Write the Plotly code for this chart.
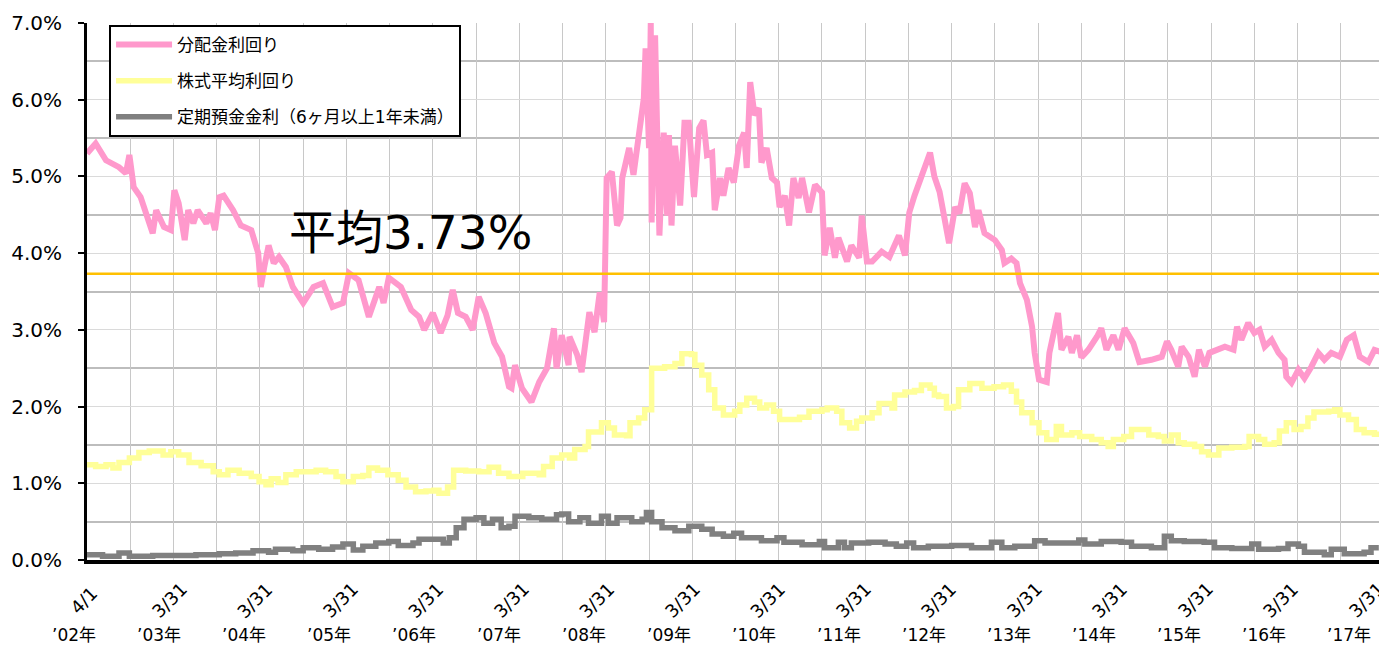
import plotly.graph_objects as go

# ---------------- data (x = decimal year) ----------------
pink_x = [2002.25, 2002.35, 2002.47, 2002.62, 2002.70, 2002.74, 2002.79, 2002.87, 2003.01, 2003.05,
          2003.14, 2003.22, 2003.26, 2003.31, 2003.38, 2003.42, 2003.48, 2003.53, 2003.63, 2003.68,
          2003.73, 2003.78, 2003.83, 2003.94, 2004.03, 2004.15, 2004.23, 2004.26, 2004.30, 2004.35,
          2004.41, 2004.47, 2004.55, 2004.63, 2004.75, 2004.87, 2004.98, 2005.09, 2005.21, 2005.28,
          2005.39, 2005.51, 2005.63, 2005.68, 2005.74, 2005.88, 2006.00, 2006.09, 2006.15, 2006.25,
          2006.34, 2006.42, 2006.48, 2006.54, 2006.63, 2006.71, 2006.78, 2006.86, 2006.96, 2007.05,
          2007.13, 2007.16, 2007.20, 2007.28, 2007.39, 2007.48, 2007.57, 2007.65, 2007.68, 2007.74,
          2007.82, 2007.83, 2007.92, 2007.97, 2008.06, 2008.12, 2008.18, 2008.23, 2008.26, 2008.32,
          2008.38, 2008.42, 2008.44, 2008.52, 2008.57, 2008.63, 2008.69, 2008.71, 2008.75, 2008.77,
          2008.78, 2008.82, 2008.84, 2008.87, 2008.92, 2008.96, 2008.98, 2009.01, 2009.05, 2009.11,
          2009.16, 2009.21, 2009.27, 2009.33, 2009.38, 2009.42, 2009.48, 2009.51, 2009.57, 2009.61,
          2009.67, 2009.73, 2009.79, 2009.85, 2009.88, 2009.92, 2009.97, 2010.02, 2010.05, 2010.11,
          2010.17, 2010.23, 2010.26, 2010.32, 2010.37, 2010.42, 2010.48, 2010.52, 2010.60, 2010.67,
          2010.75, 2010.78, 2010.84, 2010.90, 2010.94, 2011.04, 2011.09, 2011.18, 2011.21, 2011.27,
          2011.33, 2011.44, 2011.53, 2011.64, 2011.71, 2011.76, 2011.82, 2011.90, 2012.00, 2012.05,
          2012.11, 2012.22, 2012.29, 2012.34, 2012.40, 2012.46, 2012.52, 2012.56, 2012.63, 2012.75,
          2012.83, 2012.86, 2012.94, 2013.00, 2013.04, 2013.12, 2013.18, 2013.21, 2013.26, 2013.35,
          2013.38, 2013.43, 2013.48, 2013.52, 2013.60, 2013.64, 2013.70, 2013.75, 2013.83, 2013.93,
          2013.98, 2014.04, 2014.12, 2014.18, 2014.25, 2014.35, 2014.42, 2014.56, 2014.68, 2014.74,
          2014.79, 2014.87, 2014.91, 2014.99, 2015.06, 2015.11, 2015.18, 2015.23, 2015.34, 2015.41,
          2015.51, 2015.55, 2015.60, 2015.68, 2015.75, 2015.81, 2015.87, 2015.95, 2016.03, 2016.10,
          2016.12, 2016.18, 2016.26, 2016.33, 2016.41, 2016.49, 2016.56, 2016.64, 2016.74, 2016.82,
          2016.90, 2016.97, 2017.07, 2017.14, 2017.22, 2017.25]
pink_y = [5.30, 5.43, 5.21, 5.12, 5.04, 5.28, 4.86, 4.73, 4.26, 4.56,
          4.34, 4.30, 4.82, 4.65, 4.17, 4.56, 4.39, 4.56, 4.39, 4.52,
          4.30, 4.73, 4.75, 4.56, 4.36, 4.30, 4.00, 3.56, 3.82, 4.10,
          3.87, 3.95, 3.82, 3.56, 3.35, 3.56, 3.61, 3.30, 3.35, 3.74,
          3.65, 3.17, 3.56, 3.35, 3.68, 3.56, 3.26, 3.17, 3.00, 3.22,
          2.96, 3.19, 3.52, 3.22, 3.17, 3.00, 3.43, 3.22, 2.83, 2.65,
          2.26, 2.24, 2.54, 2.24, 2.06, 2.32, 2.50, 3.02, 2.50, 2.93,
          2.54, 2.91, 2.67, 2.45, 3.23, 2.97, 3.49, 3.10, 4.98, 5.06,
          4.36, 4.46, 4.98, 5.37, 5.02, 5.54, 6.02, 6.67, 5.37, 7.00,
          4.40, 6.84, 5.37, 4.23, 5.57, 4.49, 5.54, 4.36, 5.40, 4.62,
          5.70, 5.70, 4.73, 5.63, 5.73, 5.28, 5.31, 4.56, 4.98, 4.75,
          5.11, 4.92, 5.40, 5.57, 5.11, 6.23, 5.80, 5.89, 5.18, 5.37,
          4.98, 4.92, 4.60, 4.75, 4.36, 4.98, 4.72, 4.98, 4.53, 4.89,
          4.79, 3.97, 4.33, 3.94, 4.20, 3.89, 4.10, 3.94, 4.49, 3.89,
          3.89, 4.02, 3.95, 4.23, 3.97, 4.53, 4.75, 4.98, 5.31, 5.00,
          4.80, 4.13, 4.60, 4.52, 4.91, 4.78, 4.34, 4.56, 4.26, 4.17,
          4.04, 3.87, 3.93, 3.87, 3.61, 3.39, 3.04, 2.70, 2.35, 2.32,
          2.70, 2.96, 3.22, 2.74, 2.91, 2.70, 2.93, 2.64, 2.74, 2.91,
          3.02, 2.74, 2.93, 2.74, 3.02, 2.83, 2.58, 2.61, 2.65, 2.85,
          2.74, 2.52, 2.78, 2.65, 2.39, 2.74, 2.52, 2.70, 2.74, 2.78,
          2.74, 3.04, 2.87, 3.09, 2.96, 3.00, 2.78, 2.87, 2.70, 2.61,
          2.39, 2.31, 2.48, 2.37, 2.52, 2.70, 2.61, 2.70, 2.65, 2.87,
          2.93, 2.65, 2.58, 2.74, 2.71, 2.84]

yellow_x = [2002.25, 2002.35, 2002.47, 2002.55, 2002.62, 2002.74, 2002.85, 2002.97, 2003.13, 2003.22,
            2003.31, 2003.43, 2003.57, 2003.71, 2003.78, 2003.88, 2004.01, 2004.15, 2004.24, 2004.32,
            2004.38, 2004.46, 2004.55, 2004.67, 2004.78, 2004.90, 2005.01, 2005.13, 2005.21, 2005.33,
            2005.44, 2005.51, 2005.61, 2005.73, 2005.85, 2005.94, 2006.05, 2006.17, 2006.26, 2006.32,
            2006.42, 2006.49, 2006.63, 2006.78, 2006.90, 2007.01, 2007.13, 2007.29, 2007.48, 2007.53,
            2007.63, 2007.74, 2007.83, 2007.89, 2008.01, 2008.05, 2008.17, 2008.20, 2008.28, 2008.35,
            2008.49, 2008.53, 2008.63, 2008.70, 2008.78, 2008.93, 2009.05, 2009.13, 2009.24, 2009.28,
            2009.36, 2009.44, 2009.51, 2009.61, 2009.74, 2009.80, 2009.88, 2009.97, 2010.03, 2010.11,
            2010.19, 2010.26, 2010.40, 2010.49, 2010.60, 2010.75, 2010.81, 2010.92, 2010.98, 2011.07,
            2011.15, 2011.21, 2011.33, 2011.41, 2011.50, 2011.56, 2011.59, 2011.71, 2011.82, 2011.90,
            2012.00, 2012.05, 2012.10, 2012.19, 2012.27, 2012.33, 2012.46, 2012.60, 2012.74, 2012.85,
            2012.94, 2013.00, 2013.06, 2013.18, 2013.26, 2013.35, 2013.46, 2013.52, 2013.64, 2013.73,
            2013.87, 2013.98, 2014.06, 2014.12, 2014.24, 2014.33, 2014.42, 2014.53, 2014.64, 2014.71,
            2014.79, 2014.87, 2014.94, 2015.06, 2015.14, 2015.22, 2015.34, 2015.49, 2015.64, 2015.69,
            2015.80, 2015.87, 2015.98, 2016.04, 2016.12, 2016.21, 2016.29, 2016.37, 2016.44, 2016.61,
            2016.68, 2016.74, 2016.84, 2016.93, 2017.02, 2017.14, 2017.25]
yellow_y = [1.24, 1.22, 1.24, 1.20, 1.27, 1.33, 1.40, 1.42, 1.37, 1.41,
            1.37, 1.27, 1.23, 1.15, 1.11, 1.17, 1.13, 1.09, 1.02, 0.98,
            1.06, 1.01, 1.11, 1.15, 1.15, 1.17, 1.15, 1.09, 1.02, 1.09,
            1.10, 1.20, 1.17, 1.11, 1.04, 0.95, 0.89, 0.90, 0.91, 0.87,
            0.95, 1.17, 1.16, 1.15, 1.21, 1.13, 1.09, 1.13, 1.11, 1.22,
            1.33, 1.37, 1.33, 1.44, 1.48, 1.67, 1.67, 1.79, 1.72, 1.63,
            1.62, 1.79, 1.85, 1.96, 2.50, 2.52, 2.56, 2.69, 2.68, 2.54,
            2.41, 2.22, 1.98, 1.89, 1.94, 2.02, 2.11, 2.06, 1.98, 2.02,
            1.94, 1.83, 1.83, 1.86, 1.94, 1.96, 1.98, 1.94, 1.79, 1.72,
            1.81, 1.85, 1.92, 2.04, 2.04, 1.98, 2.15, 2.19, 2.21, 2.28,
            2.24, 2.15, 2.13, 1.98, 2.00, 2.22, 2.30, 2.24, 2.26, 2.28,
            2.20, 2.06, 1.92, 1.79, 1.66, 1.57, 1.74, 1.63, 1.66, 1.61,
            1.57, 1.53, 1.48, 1.57, 1.61, 1.70, 1.70, 1.63, 1.61, 1.55,
            1.63, 1.53, 1.51, 1.48, 1.41, 1.37, 1.46, 1.47, 1.48, 1.61,
            1.57, 1.51, 1.53, 1.68, 1.79, 1.70, 1.74, 1.85, 1.93, 1.94,
            1.96, 1.89, 1.83, 1.70, 1.66, 1.64, 1.62]

gray_x = [2002.25, 2002.43, 2002.62, 2002.74, 2003.01, 2003.24, 2003.51, 2003.78, 2003.97, 2004.17,
          2004.35, 2004.43, 2004.63, 2004.75, 2004.93, 2005.09, 2005.21, 2005.33, 2005.44, 2005.59,
          2005.74, 2005.85, 2006.02, 2006.09, 2006.25, 2006.37, 2006.44, 2006.52, 2006.61, 2006.75,
          2006.84, 2006.94, 2007.04, 2007.13, 2007.20, 2007.36, 2007.51, 2007.68, 2007.74, 2007.82,
          2007.95, 2008.05, 2008.20, 2008.28, 2008.38, 2008.55, 2008.67, 2008.72, 2008.78, 2008.90,
          2009.05, 2009.21, 2009.36, 2009.48, 2009.61, 2009.73, 2009.82, 2010.05, 2010.17, 2010.23,
          2010.31, 2010.52, 2010.72, 2010.78, 2010.94, 2011.01, 2011.09, 2011.29, 2011.48, 2011.61,
          2011.73, 2011.81, 2011.98, 2012.25, 2012.48, 2012.71, 2012.83, 2012.98, 2013.21, 2013.33,
          2013.56, 2013.72, 2013.79, 2013.98, 2014.21, 2014.33, 2014.56, 2014.71, 2014.79, 2014.94,
          2015.17, 2015.29, 2015.49, 2015.72, 2015.80, 2016.03, 2016.14, 2016.26, 2016.33, 2016.56,
          2016.64, 2016.79, 2017.02, 2017.10, 2017.19]
gray_y = [0.07, 0.05, 0.09, 0.05, 0.06, 0.06, 0.07, 0.08, 0.09, 0.12,
          0.10, 0.14, 0.12, 0.16, 0.14, 0.17, 0.21, 0.13, 0.18, 0.22,
          0.24, 0.19, 0.22, 0.27, 0.27, 0.22, 0.29, 0.42, 0.53, 0.55,
          0.48, 0.53, 0.42, 0.44, 0.57, 0.55, 0.53, 0.59, 0.60, 0.50,
          0.55, 0.48, 0.57, 0.48, 0.55, 0.50, 0.53, 0.62, 0.50, 0.42,
          0.38, 0.44, 0.40, 0.34, 0.31, 0.35, 0.29, 0.25, 0.25, 0.29,
          0.23, 0.20, 0.24, 0.16, 0.23, 0.16, 0.22, 0.23, 0.21, 0.18,
          0.22, 0.16, 0.18, 0.19, 0.16, 0.23, 0.16, 0.18, 0.25, 0.22,
          0.22, 0.26, 0.21, 0.24, 0.23, 0.18, 0.16, 0.31, 0.25, 0.24,
          0.23, 0.16, 0.15, 0.21, 0.14, 0.15, 0.21, 0.18, 0.10, 0.07,
          0.14, 0.08, 0.10, 0.16, 0.16]

average_value = 3.73
x_start, x_end = 2002.25, 2017.25

series_names = ["分配金利回り", "株式平均利回り", "定期預金金利（6ヶ月以上1年未満）"]
date_labels = ["4/1"] + ["3/31"] * 15
year_labels = ["’%02d年" % (y % 100) for y in range(2002, 2018)]
tick_positions = [x_start + k for k in range(16)]

FONT = "DejaVu Sans, Noto Sans CJK JP, sans-serif"

fig = go.Figure()
fig.add_trace(go.Scatter(x=pink_x, y=pink_y, mode="lines", name=series_names[0],
                         line=dict(color="#FF99CC", width=6), legendgroup="a"))
fig.add_trace(go.Scatter(x=yellow_x, y=yellow_y, mode="lines", name=series_names[1],
                         line=dict(color="#FFFF99", width=5.5, shape="hv"), legendgroup="b"))
fig.add_trace(go.Scatter(x=gray_x, y=gray_y, mode="lines", name=series_names[2],
                         line=dict(color="#808080", width=5.5, shape="hv"), legendgroup="c"))
fig.add_trace(go.Scatter(x=[x_start, x_end], y=[average_value, average_value], mode="lines",
                         line=dict(color="#FFC000", width=2.5), showlegend=False, hoverinfo="skip"))

fig.add_annotation(x=2004.56, y=4.27, xref="x", yref="y", text="平均%.2f%%" % average_value,
                   showarrow=False, xanchor="left", yanchor="middle",
                   font=dict(family=FONT, size=47, color="#000000"))

for k, (tp, dl, yl) in enumerate(zip(tick_positions, date_labels, year_labels)):
    fig.add_annotation(x=tp, y=0, xref="x", yref="paper", text=dl, textangle=-45,
                       showarrow=False, xanchor="center", yanchor="middle",
                       xshift=-3.5 - 1.0 * k, yshift=-40,
                       font=dict(family=FONT, size=18, color="#000000"))
    fig.add_annotation(x=tp, y=0, xref="x", yref="paper", text=yl,
                       showarrow=False, xanchor="center", yanchor="middle",
                       xshift=-13 - 1.47 * k, yshift=-75,
                       font=dict(family=FONT, size=17, color="#000000"))

# the page body adds an 8px offset, so the figure is sized to fit the window
fig.update_layout(
    width=1379, height=638,
    margin=dict(l=76, r=3, t=12, b=86),
    paper_bgcolor="white", plot_bgcolor="white",
    font=dict(family=FONT, color="#000000"),
    legend=dict(x=0.017, y=0.9963, xanchor="left", yanchor="top",
                bgcolor="white", bordercolor="#000000", borderwidth=2,
                font=dict(family=FONT, size=17), itemwidth=56, tracegroupgap=11),
    showlegend=True,
)
fig.update_xaxes(range=[x_start, x_end], tick0=x_start, dtick=0.5, showticklabels=False,
                 showgrid=True, gridcolor="#C8C8C8", gridwidth=1, zeroline=False,
                 showline=True, linecolor="#000000", linewidth=4, ticks="")
fig.update_yaxes(range=[0, 7], tick0=0, dtick=1, tickformat=".1f", ticksuffix="%",
                 showgrid=True, gridcolor="#DADADA", gridwidth=1, zeroline=False,
                 minor=dict(dtick=0.5, showgrid=True, gridcolor="#BDBDBD", gridwidth=2),
                 showline=True, linecolor="#000000", linewidth=3,
                 ticks="outside", ticklen=6, tickwidth=2, tickcolor="#000000",
                 ticklabelstandoff=12,
                 tickfont=dict(family=FONT, size=20, color="#000000"))

fig.write_html("out.html")
